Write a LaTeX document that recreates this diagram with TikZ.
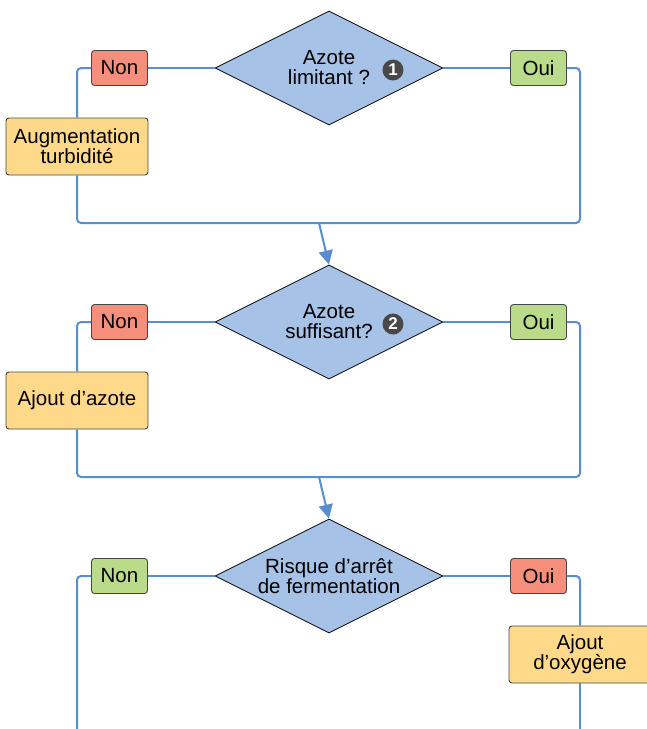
\documentclass[tikz,border=0pt]{standalone}
\usepackage{fontspec}
\setmainfont{Liberation Sans}
\usetikzlibrary{shapes.geometric,arrows.meta}

\definecolor{flowblue}{RGB}{88,142,208}
\definecolor{askblue}{RGB}{166,194,230}
\definecolor{nored}{RGB}{245,142,122}
\definecolor{yesgreen}{RGB}{185,219,138}
\definecolor{actyellow}{RGB}{255,217,138}
\definecolor{edgegray}{RGB}{70,70,70}
\definecolor{dotgray}{RGB}{72,72,72}

\newcommand\flowfont{\fontsize{20.5}{20}\selectfont}

\tikzset{
    question/.style = {
        diamond,
        draw = black,
        line width = 0.8pt,
        fill = askblue,
        minimum width = 228pt,
        minimum height = 114pt,
        inner sep = 0pt
    },
    asktext/.style = {
        align = center,
        inner sep = 0pt,
        font = \flowfont
    },
    answer/.style = {
        draw = edgegray,
        line width = 0.9pt,
        rounded corners = 3pt,
        minimum width = 56pt,
        minimum height = 35pt,
        inner sep = 0pt,
        font = \flowfont
    },
    action/.style = {
        draw = edgegray,
        line width = 0.9pt,
        rounded corners = 3pt,
        fill = actyellow,
        minimum width = 142pt,
        minimum height = 57pt,
        inner sep = 0pt,
        align = center,
        font = \flowfont
    },
    numdot/.style = {
        circle,
        fill = dotgray,
        text = white,
        minimum size = 21pt,
        inner sep = 0pt,
        font = \bfseries\fontsize{17}{17}\selectfont
    },
    flow/.style = {
        draw = flowblue,
        line width = 2pt,
        rounded corners = 4pt
    }
}

\begin{document}
\begin{tikzpicture}[x=1pt, y=-1pt]
    \useasboundingbox (0,0) rectangle (647,729);

    % first question
    \node[question] (q1) at (329,68) {};
    \node[asktext] (q1t) at (q1) {Azote\\limitant ?};
    \node[numdot] (num1) at (393,70) {1};
    \node[answer, fill = nored] (non1) at (119.5,68) {Non};
    \node[answer, fill = yesgreen] (oui1) at (538.5,68) {Oui};
    \node[action] (aug1) at (77,146.5) {Augmentation\\turbidité};
    \coordinate (se1) at (580,223);
    \coordinate (a1) at (319,223);

    % second question
    \node[question] (q2) at (329,322) {};
    \node[asktext] (q2t) at (q2) {Azote\\suffisant?};
    \node[numdot] (num2) at (393,324) {2};
    \node[answer, fill = nored] (non2) at (119.5,322) {Non};
    \node[answer, fill = yesgreen] (oui2) at (538.5,322) {Oui};
    \node[action] (azo2) at (77,400.5) {Ajout d’azote};
    \coordinate (se2) at (580,477);
    \coordinate (a2) at (319,477);

    % third question
    \node[question] (q3) at (329,576) {};
    \node[asktext] (q3t) at (q3) {Risque d’arrêt\\de fermentation};
    \node[answer, fill = yesgreen] (non3) at (119.5,576) {Non};
    \node[answer, fill = nored] (oui3) at (538.5,576) {Oui};
    \node[action] (oxy3) at (580,654.5) {Ajout\\d’oxygène};
    \coordinate (endl3) at (77,729);
    \coordinate (endr3) at (580,729);

    \draw[flow] (q1) -- (non1);
    \draw[flow] (q1) -- (oui1);
    \draw[flow] (non1) -| (aug1);
    \draw[flow] (aug1) |- (se1) |- (oui1);
    \draw[flow, -{Triangle[length=14pt, width=14pt]}] (a1) -- (q2.north);

    \draw[flow] (q2) -- (non2);
    \draw[flow] (q2) -- (oui2);
    \draw[flow] (non2) -| (azo2);
    \draw[flow] (azo2) |- (se2) |- (oui2);
    \draw[flow, -{Triangle[length=14pt, width=14pt]}] (a2) -- (q3.north);

    \draw[flow] (q3) -- (non3);
    \draw[flow] (q3) -- (oui3);
    \draw[flow] (non3) -| (endl3);
    \draw[flow] (oui3) -| (oxy3);
    \draw[flow] (oxy3) -- (endr3);
\end{tikzpicture}
\end{document}
